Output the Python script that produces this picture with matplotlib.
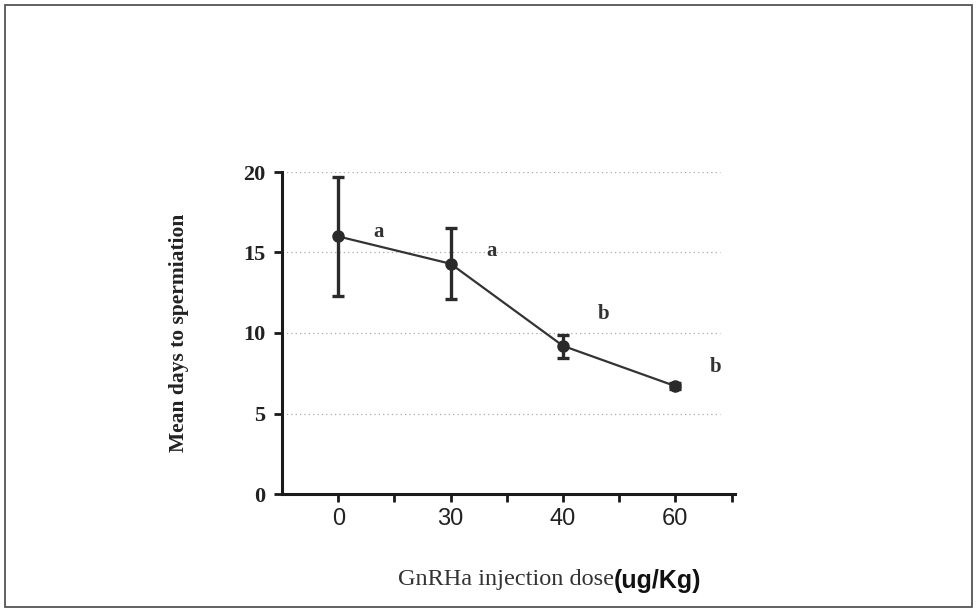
import matplotlib
matplotlib.use("Agg")
import matplotlib.pyplot as plt
from matplotlib.patches import Rectangle
import numpy as np

doses = ["0", "30", "40", "60"]
mean_days = [16.0, 14.3, 9.2, 6.7]
err_low = [3.7, 2.2, 0.75, 0.2]
err_high = [3.7, 2.2, 0.7, 0.2]
letters = ["a", "a", "b", "b"]
letter_y = [16.3, 15.1, 11.2, 7.9]
yticks = [0, 5, 10, 15, 20]

fig = plt.figure(figsize=(9.77, 6.15), dpi=100)
fig.patch.set_facecolor("white")
fig.add_artist(Rectangle((5/977, 1 - 607/615), 967/977, 602/615, transform=fig.transFigure,
                         fill=False, edgecolor="#555555", linewidth=1.3))

ax = fig.add_axes([282/977, 1 - 494/615, 453/977, 322/615])
x = np.arange(len(doses))

for yv in yticks[1:]:
    ax.hlines(yv, -0.5, 3.4, colors="#aaaaaa", linestyles=(0, (1, 2.5)), linewidth=0.9, zorder=1)

ax.errorbar(x, mean_days, yerr=[err_low, err_high], fmt="o", color="#2a2a2a", ecolor="#2a2a2a",
            elinewidth=2.4, capsize=4.5, capthick=2.4, markersize=8, zorder=3)
ax.plot(x, mean_days, color="#333333", linewidth=1.6, zorder=2)

for xi, lt, ly in zip(x, letters, letter_y):
    ax.text(xi + 0.36, ly, lt, ha="center", va="center", fontsize=15, fontweight="bold",
            family="Liberation Serif", color="#333333")

ax.set_xlim(-0.5, 3.53)
ax.set_ylim(0, 20)
ax.spines["top"].set_visible(False)
ax.spines["right"].set_visible(False)
for s in ["left", "bottom"]:
    ax.spines[s].set_linewidth(2.2)
    ax.spines[s].set_color("#1a1a1a")

ax.set_xticks(x)
ax.set_xticklabels(doses, family="Liberation Sans", fontsize=17, fontweight="medium", color="#222222")
ax.set_xticks(np.arange(0.5, 3.6, 1.0), minor=True)
ax.tick_params(axis="x", which="both", direction="out", length=6, width=2, color="#1a1a1a", pad=4)
ax.set_yticks(yticks)
ax.set_yticklabels([str(v) for v in yticks], family="Liberation Serif", fontweight="bold",
                   fontsize=16, color="#222222")
ax.tick_params(axis="y", direction="out", length=6, width=2, color="#1a1a1a", pad=6)

ax.set_ylabel("Mean days to spermiation", family="Liberation Serif", fontweight="bold",
              fontsize=15.5, color="#222222", labelpad=39)

fig.text(398/977, 1 - 580/615, "GnRHa injection dose", family="Liberation Serif", fontsize=17.5,
         color="#333333", ha="left", va="center")
fig.text(614/977, 1 - 581/615, "(ug/Kg)", family="Liberation Sans", fontweight="bold",
         fontsize=18, color="#111111", ha="left", va="center")

fig.savefig("out.png", dpi=100, facecolor="white")
